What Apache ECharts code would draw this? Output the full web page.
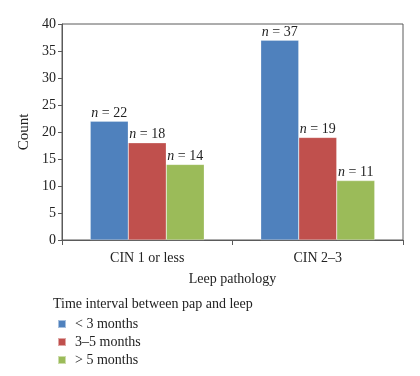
<!DOCTYPE html>
<html>
<head>
<meta charset="utf-8">
<script src="https://cdn.jsdelivr.net/npm/echarts@6/dist/echarts.min.js"></script>
<style>
  html, body { margin: 0; padding: 0; background: #fff; }
  #main { width: 420px; height: 376px; }
</style>
</head>
<body>
<div id="main"></div>
<script>
var categories = ['CIN 1 or less', 'CIN 2\u20133'];
var seriesNames = ['< 3 months', '3\u20135 months', '> 5 months'];
var lessThan3 = [22, 37];
var from3to5 = [18, 19];
var moreThan5 = [14, 11];
var yTicks = [0, 5, 10, 15, 20, 25, 30, 35, 40];

var colors = ['#4F81BD', '#C0504D', '#9BBB59'];
var font = '"Liberation Serif", "DejaVu Serif", serif';

function makeSeries(name, data, color) {
    return {
        name: name,
        type: 'bar',
        data: data,
        barWidth: 38,
        barGap: '0%',
        itemStyle: {
            color: color,
            borderColor: 'rgba(255,255,255,0.5)',
            borderWidth: 0.5
        },
        label: {
            show: true,
            position: 'top',
            distance: 1,
            formatter: function (p) {
                return '{i|n} = ' + p.value;
            },
            fontFamily: font,
            fontSize: 14,
            color: '#222',
            rich: {
                i: { fontStyle: 'italic', fontFamily: font, fontSize: 14, color: '#222' }
            }
        }
    };
}

var chart = echarts.init(document.getElementById('main'));
chart.setOption({
    animation: false,
    backgroundColor: '#fff',
    textStyle: { fontFamily: font },
    grid: {
        left: 62,
        right: 17,
        top: 24,
        bottom: 136,
        show: true,
        borderColor: '#5a5a5a',
        borderWidth: 1,
        backgroundColor: 'transparent'
    },
    title: {
        text: 'Time interval between pap and leep',
        left: 48,
        top: 292,
        textStyle: { fontFamily: font, fontSize: 14, fontWeight: 'normal', color: '#222' }
    },
    legend: {
        orient: 'vertical',
        left: 52,
        top: 312,
        icon: 'rect',
        itemWidth: 8,
        itemHeight: 8,
        itemGap: 4,
        data: seriesNames,
        textStyle: { fontFamily: font, fontSize: 14, color: '#222', padding: [0, 0, 0, 4] }
    },
    xAxis: {
        type: 'category',
        data: categories,
        name: 'Leep pathology',
        nameLocation: 'middle',
        nameGap: 32,
        nameTextStyle: { fontFamily: font, fontSize: 14, color: '#222' },
        axisLine: { lineStyle: { color: '#5a5a5a' } },
        axisTick: { show: true, length: 5, lineStyle: { color: '#5a5a5a' } },
        axisLabel: { fontFamily: font, fontSize: 14, color: '#222', margin: 11 }
    },
    yAxis: {
        type: 'value',
        min: yTicks[0],
        max: yTicks[yTicks.length - 1],
        interval: 5,
        name: 'Count',
        nameLocation: 'middle',
        nameGap: 27,
        nameTextStyle: { fontFamily: font, fontSize: 15, color: '#222' },
        axisLine: { show: true, lineStyle: { color: '#5a5a5a' } },
        axisTick: { show: true, length: 4, lineStyle: { color: '#5a5a5a' } },
        splitLine: { show: false },
        axisLabel: { fontFamily: font, fontSize: 14, color: '#222', margin: 6 }
    },
    series: [
        makeSeries(seriesNames[0], lessThan3, colors[0]),
        makeSeries(seriesNames[1], from3to5, colors[1]),
        makeSeries(seriesNames[2], moreThan5, colors[2])
    ]
});
</script>
</body>
</html>
